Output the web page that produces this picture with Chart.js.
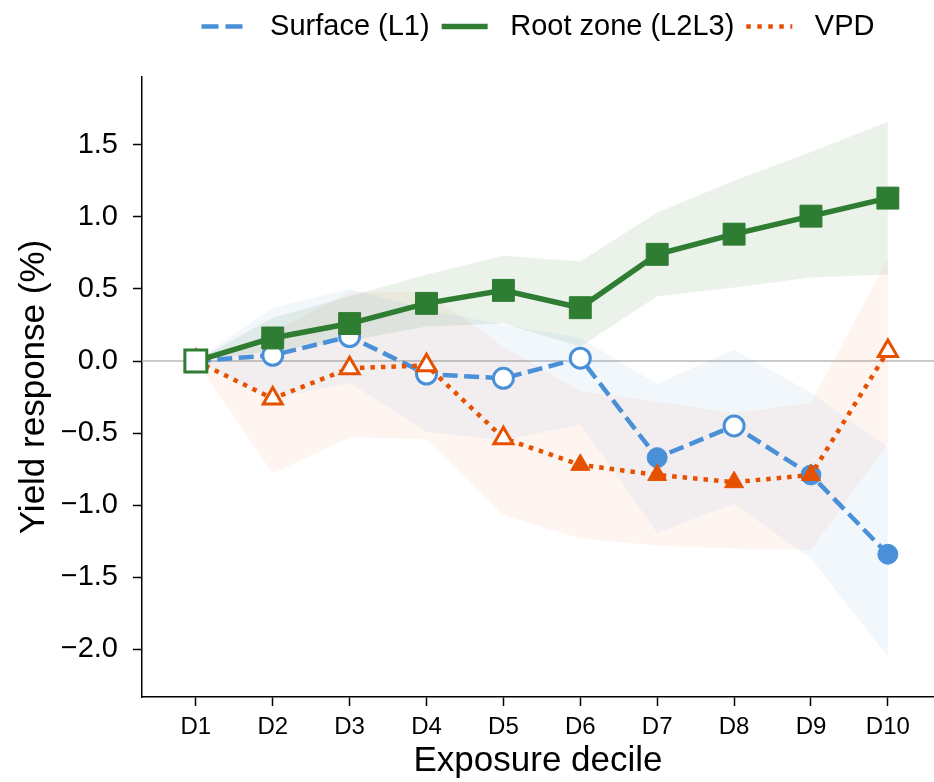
<!DOCTYPE html>
<html>
<head>
<meta charset="utf-8">
<script src="https://cdn.jsdelivr.net/npm/chart.js@4.4.1/dist/chart.umd.min.js"></script>
<style>
  html, body { margin: 0; padding: 0; background: #fff; }
  #wrap { width: 934px; height: 782px; }
</style>
</head>
<body>
<div id="wrap"><canvas id="chart" width="934" height="782"></canvas></div>
<script>
// ============== data ==============
const deciles = ['D1', 'D2', 'D3', 'D4', 'D5', 'D6', 'D7', 'D8', 'D9', 'D10'];
const yTicks = [-2.0, -1.5, -1.0, -0.5, 0.0, 0.5, 1.0, 1.5];

const surface     = [0, 0.04, 0.17, -0.09, -0.12, 0.02, -0.67, -0.45, -0.79, -1.34];
const surfaceHi   = [0, 0.37, 0.50, 0.36, 0.25, 0.16, -0.16, 0.08, -0.22, -0.60];
const surfaceLo   = [0, -0.26, -0.15, -0.49, -0.55, -0.44, -1.19, -0.99, -1.37, -2.05];
const surfaceSig  = [0, 0, 0, 0, 0, 0, 1, 0, 1, 1];

const rootZone    = [0, 0.16, 0.26, 0.40, 0.49, 0.37, 0.74, 0.88, 1.005, 1.13];
const rootZoneHi  = [0, 0.30, 0.45, 0.60, 0.73, 0.69, 1.03, 1.25, 1.45, 1.66];
const rootZoneLo  = [0, 0.07, 0.14, 0.24, 0.26, 0.10, 0.45, 0.51, 0.58, 0.60];
const rootZoneSig = [0, 1, 1, 1, 1, 1, 1, 1, 1, 1];

const vpd         = [0, -0.26, -0.05, -0.03, -0.535, -0.72, -0.79, -0.84, -0.79, 0.07];
const vpdHi       = [0, 0.20, 0.48, 0.48, 0.10, -0.21, -0.28, -0.36, -0.29, 0.71];
const vpdLo       = [0, -0.78, -0.53, -0.54, -1.07, -1.23, -1.28, -1.30, -1.31, -0.57];
const vpdSig      = [0, 0, 0, 0, 0, 1, 1, 1, 1, 0];

// ============== style ==============
const BLUE = '#4a90d9';
const GREEN = '#2e7d32';
const ORANGE = '#e65100';
const FONT = "'Liberation Sans', Arial, Helvetica, sans-serif";
const LEGEND_H = 77;

Chart.defaults.font.family = FONT;
Chart.defaults.color = '#000';

const pts = (arr) => arr.map((v, i) => ({ x: i, y: v }));
const fills = (sig, color) => sig.map(s => s ? color : '#ffffff');
const borders = (sig) => sig.map(s => s ? 1 : 3);

function band(hi, lo, color) {
  return [
    { label: '_hi', data: pts(hi), borderWidth: 0, pointRadius: 0, fill: '+1', backgroundColor: color, order: 10 },
    { label: '_lo', data: pts(lo), borderWidth: 0, pointRadius: 0, fill: false, order: 10 },
  ];
}

function series(label, data, sig, color, style, radius, width, dash) {
  return {
    label, data: pts(data), borderColor: color, borderWidth: width, borderDash: dash,
    borderCapStyle: 'butt', tension: 0, fill: false,
    pointStyle: style, pointRadius: radius,
    pointBackgroundColor: fills(sig, color), pointBorderColor: color, pointBorderWidth: borders(sig),
  };
}

const legendItems = [
  { text: ' Surface (L1)', color: BLUE, width: 4.5, dash: [17, 7] },
  { text: ' Root zone (L2L3)', color: GREEN, width: 5.5, dash: [] },
  { text: ' VPD', color: ORANGE, width: 4.5, dash: [4.5, 6.5] },
];

// ============== plugins ==============
const zeroLine = {
  id: 'zeroLine',
  beforeDatasetsDraw(chart) {
    const { ctx, chartArea, scales: { y } } = chart;
    const yy = y.getPixelForValue(0);
    ctx.save();
    ctx.strokeStyle = '#b8b8b8';
    ctx.lineWidth = 1.5;
    ctx.beginPath();
    ctx.moveTo(chartArea.left, yy);
    ctx.lineTo(chartArea.right, yy);
    ctx.stroke();
    ctx.restore();
  },
};

const legendSpace = {
  id: 'legendSpace',
  afterInit(chart) {
    const legend = chart.legend;
    if (!legend) return;
    const fit = legend.fit;
    legend.fit = function () { fit.call(this); this.height = LEGEND_H; };
  },
};

// ============== chart ==============
const surfaceDs = series('Surface (L1)', surface, surfaceSig, BLUE, 'circle', 10, 4.5, [15, 6.5]);
surfaceDs.order = 2;
const vpdDs = series('VPD', vpd, vpdSig, ORANGE, 'triangle', 11, 4.5, [4.5, 6]);
vpdDs.order = 1;
const rootDs = series('Root zone (L2L3)', rootZone, rootZoneSig, GREEN, 'rect', 15.5, 5.5, []);
rootDs.order = 0;

new Chart(document.getElementById('chart'), {
  type: 'line',
  data: {
    datasets: [
      ...band(surfaceHi, surfaceLo, 'rgba(74,144,217,0.07)'),
      ...band(rootZoneHi, rootZoneLo, 'rgba(46,125,50,0.10)'),
      ...band(vpdHi, vpdLo, 'rgba(230,81,0,0.06)'),
      surfaceDs, vpdDs, rootDs,
    ],
  },
  options: {
    responsive: false,
    animation: false,
    events: [],
    layout: { padding: 0, autoPadding: false },
    plugins: {
      tooltip: { enabled: false },
      legend: {
        position: 'top',
        fullSize: false,
        labels: {
          usePointStyle: true,
          pointStyleWidth: 46,
          padding: 12,
          color: '#000',
          font: { size: 29 },
          generateLabels: () => legendItems.map((it) => ({
            text: it.text, fillStyle: it.color, strokeStyle: it.color, lineWidth: it.width,
            lineDash: it.dash, lineCap: 'butt', pointStyle: 'line', hidden: false, fontColor: '#000',
          })),
        },
      },
    },
    scales: {
      x: {
        type: 'linear', min: -0.7, max: 9.6,
        afterBuildTicks: (s) => { s.ticks = deciles.map((_, i) => ({ value: i })); },
        afterFit: (s) => { s.height = 85; s.paddingLeft = 0; s.paddingRight = 0; },
        ticks: { callback: (v) => deciles[v], font: { size: 24 }, color: '#000', padding: 7, autoSkip: false, maxRotation: 0 },
        grid: { drawOnChartArea: false, drawTicks: true, tickLength: 9, tickWidth: 1.5, tickColor: '#000' },
        border: { display: true, color: '#000', width: 1.5 },
        title: { display: true, text: 'Exposure decile', font: { size: 35 }, color: '#000', padding: 0 },
      },
      y: {
        min: -2.33, max: 1.97,
        afterBuildTicks: (s) => { s.ticks = yTicks.map(v => ({ value: v })); },
        afterFit: (s) => { s.width = 142; },
        ticks: { callback: (v) => v.toFixed(1).replace('-', '\u2212'), font: { size: 29 }, color: '#000', padding: 15 },
        grid: { drawOnChartArea: false, drawTicks: true, tickLength: 9, tickWidth: 1.5, tickColor: '#000' },
        border: { display: true, color: '#000', width: 1.5 },
        title: { display: true, text: 'Yield response (%)', font: { size: 35 }, color: '#000', padding: 13 },
      },
    },
  },
  plugins: [zeroLine, legendSpace],
});
</script>
</body>
</html>
